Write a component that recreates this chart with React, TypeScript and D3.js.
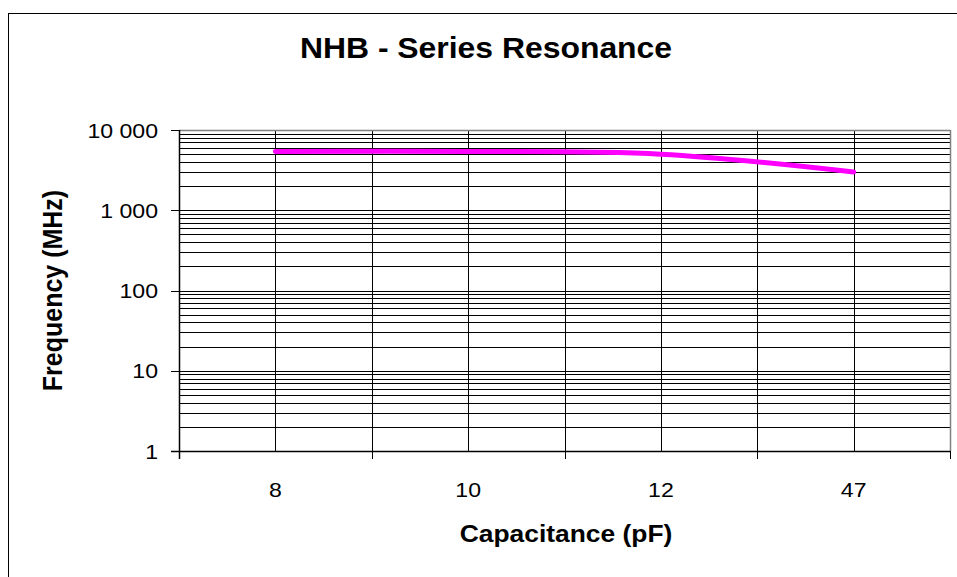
import * as d3 from 'd3';

// capacitance categories and measured series resonance (MHz)
const categories = ['8', '10', '12', '47'];
const frequencies = [5400, 5400, 5000, 3000];
const yDecades = [1, 10, 100, 1000, 10000];

const W = 957;
const H = 577;
const plot = { left: 179, right: 950, top: 130, bottom: 451 };
const SX = 1.1; // the source image is a bit wider than tall
const FONT = 'Liberation Sans, Arial, Helvetica, sans-serif';

const fmt = d3.formatLocale({ decimal: '.', thousands: ' ', grouping: [3], currency: ['', ''] }).format(',d');

export default function App() {
  const x = d3.scaleBand<string>().domain(categories).range([plot.left, plot.right]).padding(0);
  const y = d3.scaleLog().domain([1, 10000]).range([plot.bottom, plot.top]);
  const bw = x.bandwidth();
  const cx = (c: string) => (x(c) as number) + bw / 2;

  const minor = y.ticks();
  const bounds = categories.map(c => x(c) as number).concat([plot.right]);
  const vLines = categories.map(cx).concat(bounds.slice(1, -1));

  const line = d3.line<number>()
    .x((_, i) => cx(categories[i]))
    .y(d => y(d))
    .curve(d3.curveCatmullRom.alpha(0.5));

  const r = (v: number) => Math.round(v) + 0.5;

  return (
    <svg width={W} height={H} style={{ position: 'absolute', left: 0, top: 0, background: '#fff' }} fontFamily={FONT}>
      <rect x={8.5} y={13.5} width={W + 20} height={H + 20} fill="#fff" stroke="#000" strokeWidth={1} />

      {/* horizontal grid */}
      {minor.map((t, i) => (
        <line key={'h' + i} x1={plot.left} x2={plot.right} y1={r(y(t))} y2={r(y(t))} stroke="#000" strokeWidth={1} />
      ))}
      {/* vertical grid */}
      {vLines.map((v, i) => (
        <line key={'v' + i} x1={r(v)} x2={r(v)} y1={plot.top} y2={plot.bottom} stroke="#000" strokeWidth={1} />
      ))}

      {/* plot border */}
      <line x1={plot.left} x2={plot.right} y1={r(plot.top)} y2={r(plot.top)} stroke="#808080" strokeWidth={1.5} />
      <line x1={r(plot.right)} x2={r(plot.right)} y1={plot.top} y2={plot.bottom} stroke="#808080" strokeWidth={1.5} />

      {/* axes */}
      <line x1={r(plot.left)} x2={r(plot.left)} y1={plot.top} y2={plot.bottom + 8} stroke="#000" strokeWidth={1.5} />
      <line x1={plot.left - 8} x2={plot.right} y1={r(plot.bottom)} y2={r(plot.bottom)} stroke="#000" strokeWidth={1.5} />
      {yDecades.map(t => (
        <line key={'yt' + t} x1={plot.left - 8} x2={plot.left} y1={r(y(t))} y2={r(y(t))} stroke="#000" strokeWidth={1} />
      ))}
      {bounds.map((b, i) => (
        <line key={'xt' + i} x1={r(b)} x2={r(b)} y1={plot.bottom} y2={plot.bottom + 8} stroke="#000" strokeWidth={1} />
      ))}

      {/* series */}
      <path d={line(frequencies) || ''} fill="none" stroke="#FF00FF" strokeWidth={5} strokeLinecap="round" strokeLinejoin="round" />

      {/* tick labels */}
      {yDecades.map(t => (
        <text key={'yl' + t} transform={`translate(158,${y(t)}) scale(${SX},1)`} dy="0.36em" textAnchor="end" fontSize={21} fill="#000">
          {fmt(t)}
        </text>
      ))}
      {categories.map(c => (
        <text key={'xl' + c} transform={`translate(${cx(c)},497) scale(${SX},1)`} textAnchor="middle" fontSize={21} fill="#000">
          {c}
        </text>
      ))}

      {/* titles */}
      <text transform={`translate(486,58) scale(${SX},1)`} textAnchor="middle" fontSize={29} fontWeight="bold" fill="#000">
        NHB - Series Resonance
      </text>
      <text transform={`translate(566,542) scale(${SX},1)`} textAnchor="middle" fontSize={24} fontWeight="bold" fill="#000">
        Capacitance (pF)
      </text>
      <text transform={`translate(62,${(plot.top + plot.bottom) / 2}) scale(${SX},1) rotate(-90)`} textAnchor="middle" fontSize={25} fontWeight="bold" fill="#000">
        Frequency (MHz)
      </text>
    </svg>
  );
}
